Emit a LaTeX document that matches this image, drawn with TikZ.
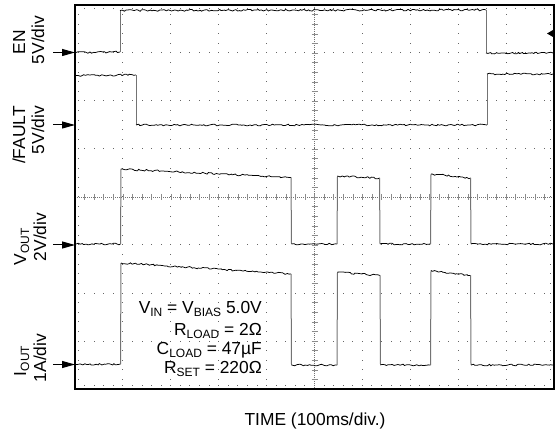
\documentclass[tikz,border=0pt]{standalone}
\usepackage{fontspec}
\setmainfont{Liberation Sans}
\usetikzlibrary{arrows.meta,decorations.pathmorphing}
\newcommand\sbs[1]{\raisebox{-3pt}{\fontsize{12}{12}\selectfont #1}}
\begin{document}
\begin{tikzpicture}[x=1pt,y=-1pt,
  txt/.style={font=\fontsize{17.4}{20}\selectfont, inner sep=0pt},
  vlbl/.style={txt, rotate=90, anchor=base},
  frame/.style={line width=1.2pt},
  griddot/.style={fill=black!60},
  ctr/.style={black!55, line width=0.6pt, dash pattern=on 0.8pt off 1.2pt},
  ctrtick/.style={black!45, line width=0.5pt},
  noisy/.style={decorate, decoration={random steps, segment length=2pt, amplitude=0.9pt}, line width=0.75pt, black, line join=round},
  edgeline/.style={line width=1pt, black!55},
  marker/.style={-{Triangle[length=13pt,width=7pt]}, line width=1pt}
]
\useasboundingbox (0,0) rectangle (556,435);
% grid dots
\foreach \i in {1,2,3,4,6,7,8,9}{
  \foreach \j in {1,...,39}{
    \fill[griddot] ({75+47.9*\i-0.5},{5+9.6*\j-0.5}) rectangle ++(1,1);
  }
}
\foreach \k in {1,2,3,5,6,7}{
  \foreach \j in {1,...,49}{
    \fill[griddot] ({75+9.58*\j-0.5},{5+48*\k-0.5}) rectangle ++(1,1);
  }
}
% frame minor ticks
\foreach \j in {1,...,49}{
  \fill[griddot] ({75+9.58*\j-0.5},8) rectangle ++(1,1.2);
  \fill[griddot] ({75+9.58*\j-0.5},385) rectangle ++(1,1.2);
}
\foreach \j in {1,...,39}{
  \fill[griddot] (78,{5+9.6*\j-0.5}) rectangle ++(1.2,1);
  \fill[griddot] (550,{5+9.6*\j-0.5}) rectangle ++(1.2,1);
}
% centre lines
\draw[ctr] (75,197) -- (554,197);
\draw[ctr] (314.5,5) -- (314.5,389);
\foreach \j in {1,...,49}{
  \draw[ctrtick] ({75+9.58*\j},194) -- ({75+9.58*\j},200);
}
\foreach \j in {1,...,39}{
  \draw[ctrtick] (311.5,{5+9.6*\j}) -- (317.5,{5+9.6*\j});
}
% frame
\draw[frame] (75,5) rectangle (554,389);

% EN trace
\draw[noisy] (76,52.5) -- (120,52);
\draw[edgeline] (120,52) -- (120,10.5);
\draw[noisy] (120,10.5) -- (486,10);
\draw[edgeline] (486,10) -- (486,53);
\draw[noisy] (486,53) -- (553,53);

% /FAULT trace
\draw[noisy] (76,75.5) -- (136,75);
\draw[edgeline] (136,75) -- (136,125);
\draw[noisy] (136,125) -- (487,125);
\draw[edgeline] (487,125) -- (487,74);
\draw[noisy] (487,74) -- (553,74);

% VOUT trace
\draw[noisy] (76,244) -- (120.5,244);
\draw[edgeline] (120.5,244) -- (121,169);
\draw[noisy] (121,169) -- (291,177.5);
\draw[edgeline] (291,177.5) -- (291.5,244);
\draw[noisy] (291.5,244) -- (337,244);
\draw[edgeline] (337,244) -- (337.5,176);
\draw[noisy] (337.5,176) -- (379.5,178);
\draw[edgeline] (379.5,178) -- (380,244);
\draw[noisy] (380,244) -- (430.5,244);
\draw[edgeline] (430.5,244) -- (431,174);
\draw[noisy] (431,174) -- (470.5,178);
\draw[edgeline] (470.5,178) -- (471,244);
\draw[noisy] (471,244) -- (553,244);

% IOUT trace
\draw[noisy] (76,364.5) -- (120.5,364);
\draw[edgeline] (120.5,364) -- (121,263);
\draw[noisy] (121,263) -- (291,274);
\draw[edgeline] (291,274) -- (291.5,365);
\draw[noisy] (291.5,365) -- (337,365);
\draw[edgeline] (337,365) -- (337.5,272);
\draw[noisy] (337.5,272) -- (380,275.5);
\draw[edgeline] (380,275.5) -- (380.5,365);
\draw[noisy] (380.5,365) -- (430.5,365);
\draw[edgeline] (430.5,365) -- (431,270.5);
\draw[noisy] (431,270.5) -- (470.5,275.5);
\draw[edgeline] (470.5,275.5) -- (471,365);
\draw[noisy] (471,365) -- (553,365);

% left channel markers
\coordinate (enA) at (53,52.5);   \coordinate (enB) at (75,52.5);
\coordinate (flA) at (53,125);    \coordinate (flB) at (75,125);
\coordinate (voA) at (53,245);    \coordinate (voB) at (75,245);
\coordinate (ioA) at (53,364.5);  \coordinate (ioB) at (75,364.5);
\draw[marker] (enA) -- (enB);
\draw[marker] (flA) -- (flB);
\draw[marker] (voA) -- (voB);
\draw[marker] (ioA) -- (ioB);
% trigger marker
\fill (547,33.5) -- (553,30) -- (553,37) -- cycle;

% channel labels
\node[vlbl] (enname) at (25,42.5) {EN};
\node[vlbl] (enscale) at (44,40) {5V/div};
\node[vlbl] (flname) at (25,135) {/FAULT};
\node[vlbl] (flscale) at (44,130) {5V/div};
\node[vlbl] (voname) at (26,247) {V\sbs{OUT}};
\node[vlbl] (voscale) at (46,237) {2V/div};
\node[vlbl] (ioname) at (26,361) {I\sbs{OUT}};
\node[vlbl] (ioscale) at (46,358) {1A/div};

% conditions
\node[txt, anchor=base east] (c1) at (262,313) {V\sbs{IN} = V\sbs{BIAS} 5.0V};
\node[txt, anchor=base east] (c2) at (262,335) {R\sbs{LOAD} = 2Ω};
\node[txt, anchor=base east] (c3) at (262,354) {C\sbs{LOAD} = 47µF};
\node[txt, anchor=base east] (c4) at (262,373) {R\sbs{SET} = 220Ω};

% time axis
\node[txt, anchor=base] (time) at (315,425) {TIME (100ms/div.)};
\end{tikzpicture}
\end{document}
